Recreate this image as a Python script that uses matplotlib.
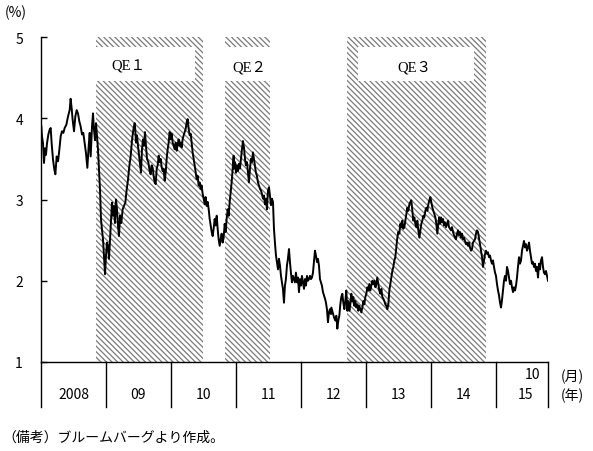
import matplotlib
matplotlib.use("Agg")
import matplotlib.pyplot as plt
import matplotlib.transforms as mtransforms

plt.rcParams['font.family'] = ['Noto Sans CJK JP', 'DejaVu Sans']
plt.rcParams['hatch.linewidth'] = 0.9

# 10-year yield (%); x as decimal year
t = [
    # 2008 - mid 2009
    2008.005, 2008.015, 2008.031, 2008.046, 2008.062, 2008.077, 2008.092, 2008.113,
    2008.133, 2008.149, 2008.164, 2008.185, 2008.205, 2008.221, 2008.241, 2008.262,
    2008.282, 2008.303, 2008.323, 2008.344, 2008.364, 2008.390, 2008.415, 2008.441,
    2008.456, 2008.472, 2008.487, 2008.508, 2008.528, 2008.549, 2008.569, 2008.590,
    2008.610, 2008.631, 2008.651, 2008.672, 2008.692, 2008.713, 2008.733, 2008.749,
    2008.764, 2008.785, 2008.800, 2008.815, 2008.831, 2008.846, 2008.862, 2008.877,
    2008.892, 2008.908, 2008.923, 2008.938, 2008.954, 2008.969, 2008.985, 2009.000,
    2009.015, 2009.031, 2009.046, 2009.062, 2009.077, 2009.092, 2009.108, 2009.123,
    2009.138, 2009.154, 2009.169, 2009.185, 2009.200, 2009.215, 2009.236, 2009.256,
    2009.277, 2009.297, 2009.318, 2009.338, 2009.359, 2009.379, 2009.400, 2009.421,
    2009.441,
    # mid 2009 - end 2010
    2009.446, 2009.462, 2009.477, 2009.492, 2009.508, 2009.523, 2009.538, 2009.554,
    2009.569, 2009.585, 2009.600, 2009.615, 2009.631, 2009.651, 2009.672, 2009.687,
    2009.703, 2009.718, 2009.733, 2009.749, 2009.764, 2009.780, 2009.795, 2009.810,
    2009.826, 2009.841, 2009.856, 2009.872, 2009.887, 2009.903, 2009.918, 2009.933,
    2009.949, 2009.964, 2009.979, 2009.995, 2010.010, 2010.026, 2010.041, 2010.056,
    2010.072, 2010.087, 2010.103, 2010.118, 2010.133, 2010.149, 2010.164, 2010.179,
    2010.195, 2010.210, 2010.226, 2010.241, 2010.256, 2010.272, 2010.287, 2010.303,
    2010.318, 2010.333, 2010.349, 2010.364, 2010.380, 2010.395, 2010.410, 2010.426,
    2010.441, 2010.456, 2010.472, 2010.487, 2010.503, 2010.518, 2010.533, 2010.549,
    2010.564, 2010.580, 2010.595, 2010.610, 2010.626, 2010.641, 2010.656, 2010.672,
    2010.687, 2010.703, 2010.718, 2010.733, 2010.749, 2010.764, 2010.779, 2010.795,
    2010.810, 2010.826, 2010.841, 2010.856, 2010.872, 2010.887, 2010.903, 2010.918,
    2010.933, 2010.949, 2010.964,
    # end 2010 - mid 2012
    2010.969, 2010.984, 2011.000, 2011.015, 2011.030, 2011.046, 2011.061, 2011.076,
    2011.092, 2011.107, 2011.123, 2011.138, 2011.153, 2011.169, 2011.184, 2011.199,
    2011.215, 2011.230, 2011.246, 2011.261, 2011.276, 2011.292, 2011.307, 2011.322,
    2011.338, 2011.353, 2011.369, 2011.384, 2011.399, 2011.415, 2011.430, 2011.446,
    2011.461, 2011.476, 2011.492, 2011.507, 2011.522, 2011.538, 2011.553, 2011.569,
    2011.584, 2011.599, 2011.615, 2011.630, 2011.646, 2011.661, 2011.676, 2011.692,
    2011.707, 2011.722, 2011.738, 2011.753, 2011.768, 2011.784, 2011.799, 2011.815,
    2011.830, 2011.845, 2011.861, 2011.876, 2011.891, 2011.907, 2011.922, 2011.938,
    2011.953, 2011.969, 2011.984, 2012.000, 2012.015, 2012.030, 2012.046, 2012.061,
    2012.076, 2012.092, 2012.107, 2012.123, 2012.138, 2012.153, 2012.169, 2012.184,
    2012.199, 2012.215, 2012.230, 2012.246, 2012.261, 2012.276, 2012.292, 2012.307,
    2012.322, 2012.338, 2012.353, 2012.369, 2012.384, 2012.399, 2012.415, 2012.430,
    2012.445, 2012.461,
    # mid 2012 - early 2014
    2012.467, 2012.487, 2012.508, 2012.528, 2012.544, 2012.559, 2012.574, 2012.590,
    2012.605, 2012.620, 2012.636, 2012.651, 2012.667, 2012.682, 2012.697, 2012.713,
    2012.728, 2012.744, 2012.759, 2012.774, 2012.790, 2012.805, 2012.821, 2012.836,
    2012.851, 2012.867, 2012.882, 2012.897, 2012.913, 2012.928, 2012.944, 2012.959,
    2012.974, 2012.990, 2013.005, 2013.021, 2013.036, 2013.051, 2013.067, 2013.082,
    2013.097, 2013.113, 2013.128, 2013.144, 2013.159, 2013.174, 2013.190, 2013.205,
    2013.221, 2013.236, 2013.251, 2013.267, 2013.282, 2013.297, 2013.313, 2013.328,
    2013.344, 2013.359, 2013.374, 2013.390, 2013.405, 2013.421, 2013.436, 2013.451,
    2013.467, 2013.482, 2013.497, 2013.513, 2013.528, 2013.544, 2013.559, 2013.574,
    2013.590, 2013.605, 2013.621, 2013.636, 2013.651, 2013.667, 2013.682, 2013.697,
    2013.713, 2013.728, 2013.744, 2013.759, 2013.774, 2013.790, 2013.805, 2013.821,
    2013.836, 2013.851, 2013.867, 2013.882, 2013.897, 2013.913, 2013.928, 2013.944,
    2013.959, 2013.974, 2013.990, 2014.005, 2014.021, 2014.036, 2014.051, 2014.067,
    2014.082, 2014.097, 2014.113, 2014.128,
    # 2014 - Oct 2015
    2014.139, 2014.154, 2014.170, 2014.185, 2014.200, 2014.216, 2014.231, 2014.247,
    2014.262, 2014.277, 2014.293, 2014.308, 2014.323, 2014.339, 2014.354, 2014.370,
    2014.385, 2014.400, 2014.416, 2014.431, 2014.446, 2014.462, 2014.477, 2014.492,
    2014.508, 2014.523, 2014.538, 2014.554, 2014.569, 2014.585, 2014.600, 2014.615,
    2014.631, 2014.646, 2014.662, 2014.677, 2014.692, 2014.708, 2014.723, 2014.738,
    2014.754, 2014.769, 2014.785, 2014.800, 2014.815, 2014.831, 2014.846, 2014.862,
    2014.877, 2014.892, 2014.908, 2014.923, 2014.938, 2014.954, 2014.969, 2014.985,
    2015.000, 2015.015, 2015.031, 2015.046, 2015.062, 2015.077, 2015.092, 2015.108,
    2015.123, 2015.138, 2015.154, 2015.169, 2015.185, 2015.200, 2015.215, 2015.231,
    2015.246, 2015.262, 2015.277, 2015.292, 2015.308, 2015.323, 2015.338, 2015.354,
    2015.369, 2015.385, 2015.400, 2015.415, 2015.431, 2015.446, 2015.462, 2015.477,
    2015.492, 2015.508, 2015.523, 2015.538, 2015.554, 2015.569, 2015.585, 2015.600,
    2015.615, 2015.631, 2015.646, 2015.662, 2015.677, 2015.692, 2015.708, 2015.723,
    2015.738, 2015.754, 2015.769, 2015.785, 2015.800,
]

yld = [
    3.90, 3.78, 3.69, 3.45, 3.63, 3.55, 3.69, 3.80,
    3.86, 3.88, 3.69, 3.49, 3.37, 3.31, 3.53, 3.47,
    3.61, 3.78, 3.84, 3.82, 3.88, 3.92, 4.02, 4.10,
    4.24, 4.12, 3.98, 3.84, 4.02, 4.10, 4.06, 3.96,
    3.90, 3.80, 3.82, 3.69, 3.57, 3.39, 3.65, 3.82,
    3.53, 3.90, 4.06, 3.86, 3.73, 3.94, 3.78, 3.61,
    3.37, 3.12, 2.76, 2.63, 2.51, 2.31, 2.08, 2.31,
    2.47, 2.43, 2.27, 2.51, 2.71, 2.96, 2.80, 2.92,
    2.71, 3.00, 2.88, 2.67, 2.55, 2.80, 2.71, 2.88,
    2.92, 2.96, 3.12, 3.24, 3.41, 3.53, 3.73, 3.86,
    3.94,
    3.91, 3.70, 3.79, 3.66, 3.54, 3.44, 3.33, 3.62,
    3.74, 3.66, 3.83, 3.66, 3.50, 3.46, 3.35, 3.31,
    3.42, 3.39, 3.29, 3.21, 3.19, 3.38, 3.42, 3.54,
    3.46, 3.50, 3.40, 3.35, 3.38, 3.23, 3.33, 3.50,
    3.62, 3.70, 3.83, 3.74, 3.81, 3.70, 3.66, 3.62,
    3.70, 3.60, 3.68, 3.74, 3.66, 3.70, 3.64, 3.74,
    3.79, 3.83, 3.87, 3.95, 3.99, 3.87, 3.79, 3.81,
    3.70, 3.58, 3.50, 3.42, 3.33, 3.25, 3.29, 3.17,
    3.21, 3.13, 3.17, 3.07, 3.01, 2.94, 3.03, 2.92,
    2.97, 2.88, 2.76, 2.68, 2.60, 2.55, 2.64, 2.76,
    2.68, 2.80, 2.64, 2.51, 2.43, 2.51, 2.58, 2.47,
    2.53, 2.70, 2.60, 2.76, 2.88, 2.80, 2.97, 3.09,
    3.21, 3.38, 3.54,
    3.38, 3.46, 3.33, 3.42, 3.35, 3.44, 3.38, 3.50,
    3.62, 3.72, 3.64, 3.50, 3.42, 3.46, 3.33, 3.21,
    3.38, 3.50, 3.46, 3.58, 3.50, 3.42, 3.33, 3.29,
    3.21, 3.17, 3.13, 3.11, 3.07, 3.01, 3.05, 2.94,
    3.01, 2.88, 3.11, 3.15, 3.05, 2.93, 3.01, 2.97,
    2.64, 2.47, 2.31, 2.23, 2.14, 2.27, 2.19, 2.06,
    1.98, 1.90, 1.73, 1.94, 2.02, 2.19, 2.27, 2.39,
    2.23, 2.10, 1.98, 2.06, 2.02, 1.98, 2.10, 1.98,
    2.04, 1.86, 2.02, 1.94, 2.06, 1.98, 1.90, 2.02,
    1.94, 2.06, 2.00, 2.02, 2.06, 2.02, 2.04, 2.10,
    2.23, 2.37, 2.31, 2.23, 2.27, 2.19, 2.02, 1.98,
    1.94, 1.86, 1.82, 1.78, 1.73, 1.65, 1.49, 1.61,
    1.65, 1.59,
    1.67, 1.61, 1.55, 1.51, 1.57, 1.41, 1.51, 1.57,
    1.71, 1.80, 1.84, 1.73, 1.65, 1.75, 1.88, 1.63,
    1.75, 1.63, 1.71, 1.84, 1.75, 1.80, 1.69, 1.75,
    1.67, 1.71, 1.63, 1.69, 1.65, 1.61, 1.67, 1.75,
    1.71, 1.80, 1.84, 1.92, 1.88, 1.96, 1.88, 1.94,
    2.00, 1.96, 2.00, 1.92, 1.96, 2.04, 1.96, 1.88,
    1.84, 1.90, 1.80, 1.78, 1.75, 1.71, 1.69, 1.65,
    1.71, 1.88, 1.96, 2.04, 2.12, 2.17, 2.25, 2.29,
    2.41, 2.53, 2.60, 2.58, 2.70, 2.66, 2.74, 2.64,
    2.66, 2.74, 2.82, 2.90, 2.86, 2.94, 2.97, 2.99,
    2.86, 2.74, 2.78, 2.70, 2.66, 2.74, 2.62, 2.53,
    2.62, 2.70, 2.74, 2.80, 2.78, 2.86, 2.90, 2.86,
    2.94, 2.99, 3.03, 2.97, 2.90, 2.86, 2.82, 2.78,
    2.70, 2.58, 2.70, 2.78,
    2.70, 2.78, 2.72, 2.76, 2.68, 2.72, 2.66, 2.70,
    2.74, 2.66, 2.64, 2.62, 2.66, 2.60, 2.56, 2.53,
    2.51, 2.58, 2.62, 2.56, 2.60, 2.53, 2.58, 2.51,
    2.53, 2.49, 2.45, 2.47, 2.43, 2.47, 2.41, 2.37,
    2.39, 2.47, 2.49, 2.51, 2.58, 2.62, 2.60, 2.53,
    2.45, 2.37, 2.29, 2.17, 2.25, 2.33, 2.37, 2.33,
    2.35, 2.29, 2.31, 2.25, 2.21, 2.25, 2.17, 2.10,
    2.06, 1.96, 1.88, 1.82, 1.73, 1.67, 1.76, 1.88,
    2.00, 2.06, 2.00, 2.17, 2.12, 2.04, 1.96, 2.00,
    1.92, 1.86, 1.92, 1.88, 1.94, 2.04, 2.17, 2.29,
    2.21, 2.25, 2.37, 2.43, 2.49, 2.41, 2.45, 2.37,
    2.41, 2.47, 2.37, 2.29, 2.21, 2.23, 2.17, 2.21,
    2.12, 2.17, 2.04, 2.21, 2.14, 2.25, 2.29, 2.17,
    2.10, 2.08, 2.12, 2.06, 2.00,
]

# QE periods (decimal year) and labels
qe_names = ["QE１", "QE２", "QE３"]
qe_start = [2008.846, 2010.831, 2012.708]
qe_end = [2010.492, 2011.523, 2014.846]
qe_box = [(2008.846, 2010.369), (2010.80, 2011.75), (2012.877, 2014.662)]
qe_label_x = [2009.34, 2011.21, 2013.74]

year_labels = ["2008", "09", "10", "11", "12", "13", "14"]
y_ticks = [1, 2, 3, 4, 5]

fig = plt.figure(figsize=(5.93, 4.52), dpi=100)
ax = fig.add_axes([41 / 593, 89 / 452, 507 / 593, 325 / 452])

# hatched QE bands with white label boxes
for s, e in zip(qe_start, qe_end):
    ax.axvspan(s, e, facecolor='white', edgecolor='#7a7a7a', hatch='\\' * 6,
               linewidth=0, zorder=1)
for (b0, b1), name, lx in zip(qe_box, qe_names, qe_label_x):
    ax.fill_between([b0, b1], 4.458, 4.877, facecolor='white', edgecolor='none', zorder=2)
    ax.text(lx, 4.64, name, ha='center', va='center', fontsize=10.5, zorder=3,
            family=['Liberation Serif', 'Noto Sans CJK JP'])

ax.plot(t, yld, color='black', linewidth=1.4, zorder=4)

ax.set_xlim(2008, 2015.8)
ax.set_ylim(1, 5)
ax.set_yticks(y_ticks)
ax.set_yticklabels([str(v) for v in y_ticks], fontsize=10)
ax.tick_params(axis='y', direction='in', length=4, width=1, pad=13)
ax.set_xticks([])
for side in ['top', 'right']:
    ax.spines[side].set_visible(False)
ax.spines['left'].set_linewidth(1)
ax.spines['bottom'].set_linewidth(1)

# year table under the axis
trans = mtransforms.blended_transform_factory(ax.transData, ax.transAxes)
for yr in range(2008, 2016):
    ax.plot([yr, yr], [0, -0.138], color='black', linewidth=1,
            transform=trans, clip_on=False)
ax.plot([2015.8, 2015.8], [0, -0.138], color='black', linewidth=1,
        transform=trans, clip_on=False)
for i, lab in enumerate(year_labels):
    ax.text(2008.5 + i, -0.10, lab, ha='center', va='center', fontsize=10,
            transform=trans)
ax.text(2015.45, -0.10, "15", ha='center', va='center', fontsize=10, transform=trans)
ax.text(2015.56, -0.037, "10", ha='center', va='center', fontsize=10, transform=trans)

fig.text(561 / 593, 1 - 377 / 452, "(月)", ha='left', va='center', fontsize=10)
fig.text(561 / 593, 1 - 396 / 452, "(年)", ha='left', va='center', fontsize=10)
fig.text(5 / 593, 1 - 13 / 452, "(%)", ha='left', va='center', fontsize=10)
fig.text(2 / 593, 1 - 438 / 452, "（備考）ブルームバーグより作成。", ha='left',
         va='center', fontsize=10)

fig.savefig("out.png", dpi=100)
